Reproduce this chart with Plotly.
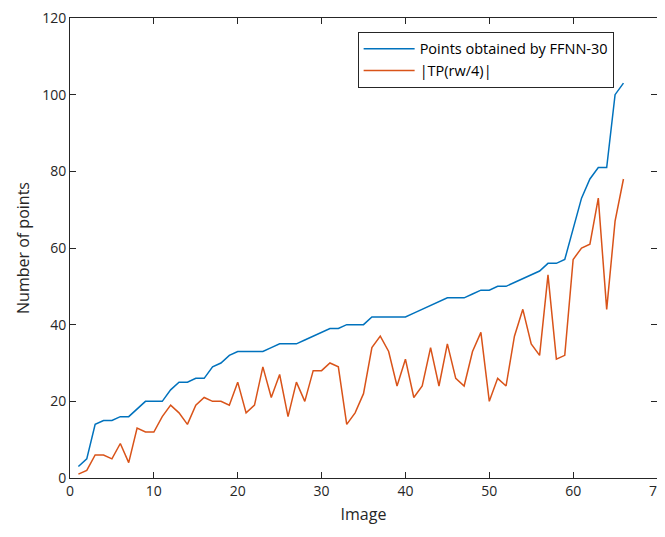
import plotly.graph_objects as go

images = list(range(1, 67))
ffnn_points = [3, 5, 14, 15, 15, 16, 16, 18, 20, 20,
               20, 23, 25, 25, 26, 26, 29, 30, 32, 33,
               33, 33, 33, 34, 35, 35, 35, 36, 37, 38,
               39, 39, 40, 40, 40, 42, 42, 42, 42, 42,
               43, 44, 45, 46, 47, 47, 47, 48, 49, 49,
               50, 50, 51, 52, 53, 54, 56, 56, 57, 65,
               73, 78, 81, 81, 100, 103]
tp_points = [1, 2, 6, 6, 5, 9, 4, 13, 12, 12,
             16, 19, 17, 14, 19, 21, 20, 20, 19, 25,
             17, 19, 29, 21, 27, 16, 25, 20, 28, 28,
             30, 29, 14, 17, 22, 34, 37, 33, 24, 31,
             21, 24, 34, 24, 35, 26, 24, 33, 38, 20,
             26, 24, 37, 44, 35, 32, 53, 31, 32, 57,
             60, 61, 73, 44, 67, 78]
series_names = ["Points obtained by FFNN-30", "|TP(rw/4)|"]
x_ticks = [0, 10, 20, 30, 40, 50, 60, 70]
y_ticks = [0, 20, 40, 60, 80, 100, 120]

FONT = "Open Sans, sans-serif"

fig = go.Figure()
fig.add_trace(go.Scatter(x=images, y=ffnn_points, mode="lines", name=series_names[0],
                         line=dict(color="#0072BD", width=1.5)))
fig.add_trace(go.Scatter(x=images, y=tp_points, mode="lines", name=series_names[1],
                         line=dict(color="#D95319", width=1.5)))

axis_common = dict(showgrid=False, zeroline=False, showline=True, linecolor="#262626",
                   linewidth=1, mirror="ticks", ticks="inside", ticklen=6,
                   tickcolor="#262626", tickwidth=1, automargin=False,
                   ticklabeloverflow="allow",
                   tickfont=dict(family=FONT, size=14, color="#262626"))

fig.update_xaxes(range=[0, 70], tickvals=x_ticks,
                 title=dict(text="Image", font=dict(family=FONT, size=16, color="#262626"),
                            standoff=10),
                 **axis_common)
fig.update_yaxes(range=[0, 120], tickvals=y_ticks,
                 title=dict(text="Number of points", font=dict(family=FONT, size=16, color="#262626"),
                            standoff=8),
                 **axis_common)

# page body has an 8px default margin, so the figure is sized/offset to compensate
fig.update_layout(
    width=657, height=529,
    margin=dict(l=62, r=8, t=10, b=59),
    plot_bgcolor="white", paper_bgcolor="white",
    legend=dict(x=0.49, y=0.97, xanchor="left", yanchor="top",
                bgcolor="white", bordercolor="#262626", borderwidth=1,
                font=dict(family=FONT, size=14.5, color="#000000"),
                tracegroupgap=0, itemwidth=51),
    showlegend=True,
)

fig.write_html("out.html")
